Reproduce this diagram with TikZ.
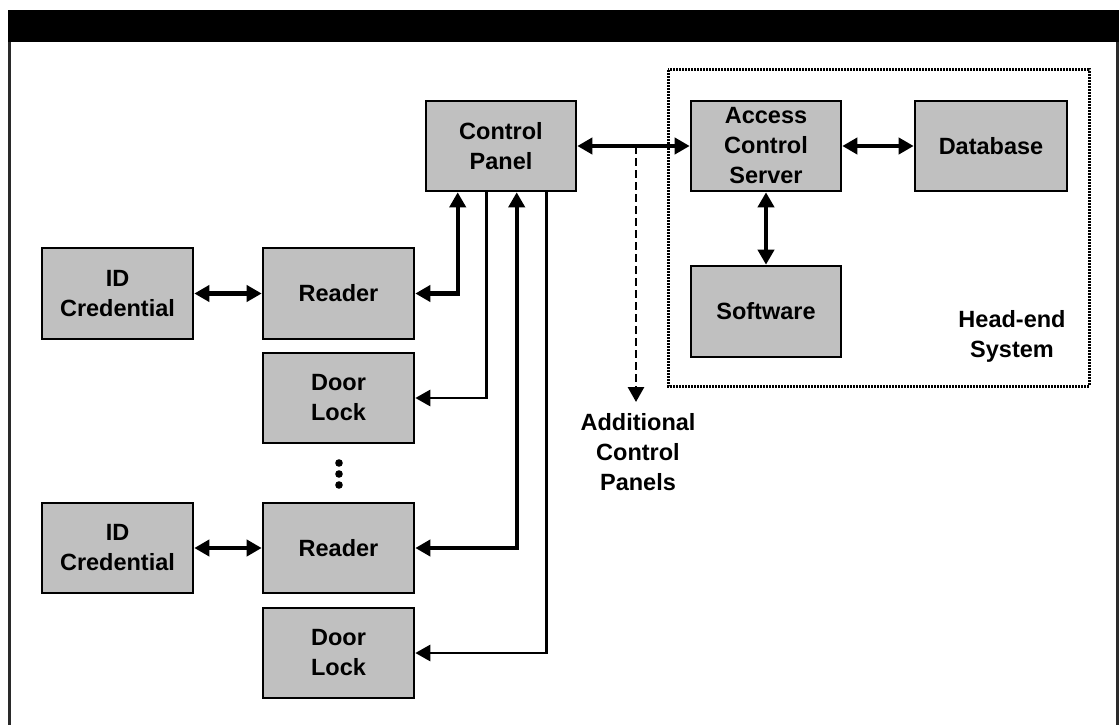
\documentclass[tikz,border=0pt]{standalone}
\usepackage{fontspec}
\setmainfont{Liberation Sans}
\usetikzlibrary{arrows.meta,calc}
\definecolor{boxgray}{HTML}{C0C0C0}
\definecolor{framegray}{HTML}{2A2A2A}
\tikzset{
  blk/.style={draw=black,line width=2.6pt,fill=boxgray,minimum width=150pt,minimum height=90pt,inner sep=0pt,align=center,font=\fontsize{23.5}{30}\selectfont\bfseries},
  lbl/.style={align=center,inner sep=0pt,font=\fontsize{23.5}{30}\selectfont\bfseries},
  tip/.tip={Triangle[length=15pt,width=16pt]},
  thickcon/.style={line width=4.2pt,{tip}-{tip}},
  thincon/.style={line width=2.8pt,-{tip}},
}
\begin{document}
\begin{tikzpicture}[x=1pt,y=-1pt]
\useasboundingbox (0,0) rectangle (1119,725);
% frame
\fill[black] (8,10) rectangle (1119,42);
\draw[framegray,line width=2.2pt] (9.5,42) -- (9.5,725);
\draw[framegray,line width=2.2pt] (1117.5,42) -- (1117.5,725);
% head-end dotted box
\draw[line width=3pt,dash pattern=on 2pt off 1pt] (668,70) rectangle (1089,386);
% nodes
\node[blk] (cp) at (501,146) {Control\\Panel};
\node[blk] (acs) at (766,146) {Access\\Control\\Server};
\node[blk,minimum width=152pt] (db) at (991,146) {Database};
\node[blk,minimum height=91pt] (sw) at (766,311.5) {Software};
\node[blk,minimum width=151pt,minimum height=91pt] (id1) at (117.5,293.5) {ID\\Credential};
\node[blk,minimum width=151pt,minimum height=91pt] (r1) at (338.5,293.5) {Reader};
\node[blk,minimum width=151pt] (dl1) at (338.5,398) {Door\\Lock};
\node[blk,minimum width=151pt] (id2) at (117.5,548) {ID\\Credential};
\node[blk,minimum width=151pt] (r2) at (338.5,548) {Reader};
\node[blk,minimum width=151pt] (dl2) at (338.5,653) {Door\\Lock};
\node[lbl] (he) at (1012,336) {Head-end\\System};
\node[lbl] (acp) at (638,452) {Additional\\Control\\Panels};
% dots
\fill (339,463) circle (3.8pt);
\fill (339,474) circle (3.8pt);
\fill (339,485) circle (3.8pt);
% connectors
\draw[thickcon] (id1) -- (r1);
\draw[thickcon] (id2) -- (r2);
\draw[thickcon] (cp) -- (acs);
\draw[thickcon] (acs) -- (db);
\draw[thickcon] (acs) -- (sw);
\draw[thickcon] ([xshift=33pt]cp.south west) |- (r1.east);
\draw[thincon] ([xshift=62pt]cp.south west) |- (dl1.east);
\draw[thickcon] ([xshift=92pt]cp.south west) |- (r2.east);
\draw[thincon] ([xshift=122pt]cp.south west) |- (dl2.east);
\coordinate (addend) at (636,402);
\draw[line width=2.8pt,dash pattern=on 8pt off 4pt,-{tip}] (addend |- cp.east) -- (addend);
\end{tikzpicture}
\end{document}
